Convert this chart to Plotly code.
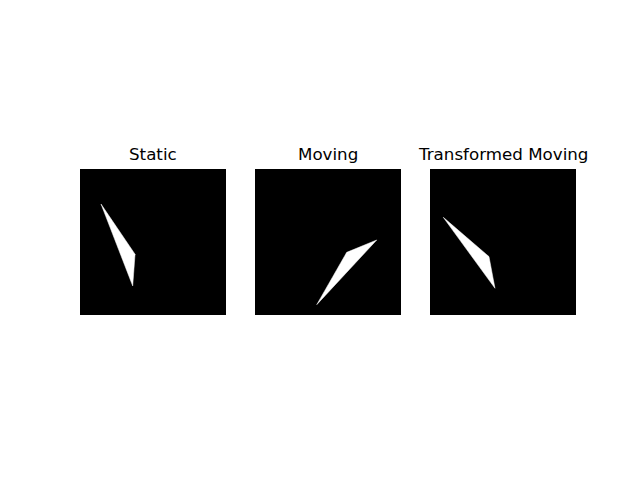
import plotly.graph_objects as go

# polygon vertices in image pixel coords (100x100 image, y down)
static_x = [14.4, 37.7, 36.1]
static_y = [24.0, 58.4, 80.1]

moving_x = [83.4, 62.8, 42.3]
moving_y = [48.6, 57.1, 92.9]

transformed_x = [9.1, 40.4, 44.5]
transformed_y = [33.1, 60.0, 81.7]

titles = ["Static", "Moving", "Transformed Moving"]
img_size = 100

panels = [(static_x, static_y), (moving_x, moving_y), (transformed_x, transformed_y)]
x_domains = [(80 / 640, 226 / 640), (255 / 640, 401 / 640), (430 / 640, 576 / 640)]
y_domain = (1 - 315 / 480, 1 - 169 / 480)

fig = go.Figure()
annotations = []
shapes = []
for i, ((px, py), title) in enumerate(zip(panels, titles)):
    n = "" if i == 0 else str(i + 1)
    fig.add_trace(go.Scatter(
        x=px + [px[0]], y=py + [py[0]],
        mode="lines", fill="toself",
        fillcolor="white", line=dict(color="white", width=0.5),
        xaxis="x" + n, yaxis="y" + n,
        hoverinfo="skip", showlegend=False,
    ))
    fig.layout["xaxis" + n] = dict(
        domain=x_domains[i], range=[0, img_size], visible=False,
        anchor="y" + n, fixedrange=True,
    )
    fig.layout["yaxis" + n] = dict(
        domain=y_domain, range=[img_size, 0], visible=False,
        anchor="x" + n, fixedrange=True,
    )
    # black image background
    shapes.append(dict(
        type="rect", xref="x" + n + " domain", yref="y" + n + " domain",
        x0=0, x1=1, y0=0, y1=1, fillcolor="black", line=dict(width=0),
        layer="below",
    ))
    annotations.append(dict(
        text=title, x=sum(x_domains[i]) / 2, y=y_domain[1],
        xref="paper", yref="paper", xanchor="center", yanchor="bottom",
        yshift=3, showarrow=False,
        font=dict(family="DejaVu Sans", size=16.7, color="black"),
    ))

fig.update_layout(
    width=640, height=480,
    margin=dict(l=0, r=0, t=0, b=0),
    paper_bgcolor="white", plot_bgcolor="white",
    shapes=shapes, annotations=annotations,
)

fig.write_html("out.html", config={"displayModeBar": False},
               post_script="document.body.style.margin='0';")
